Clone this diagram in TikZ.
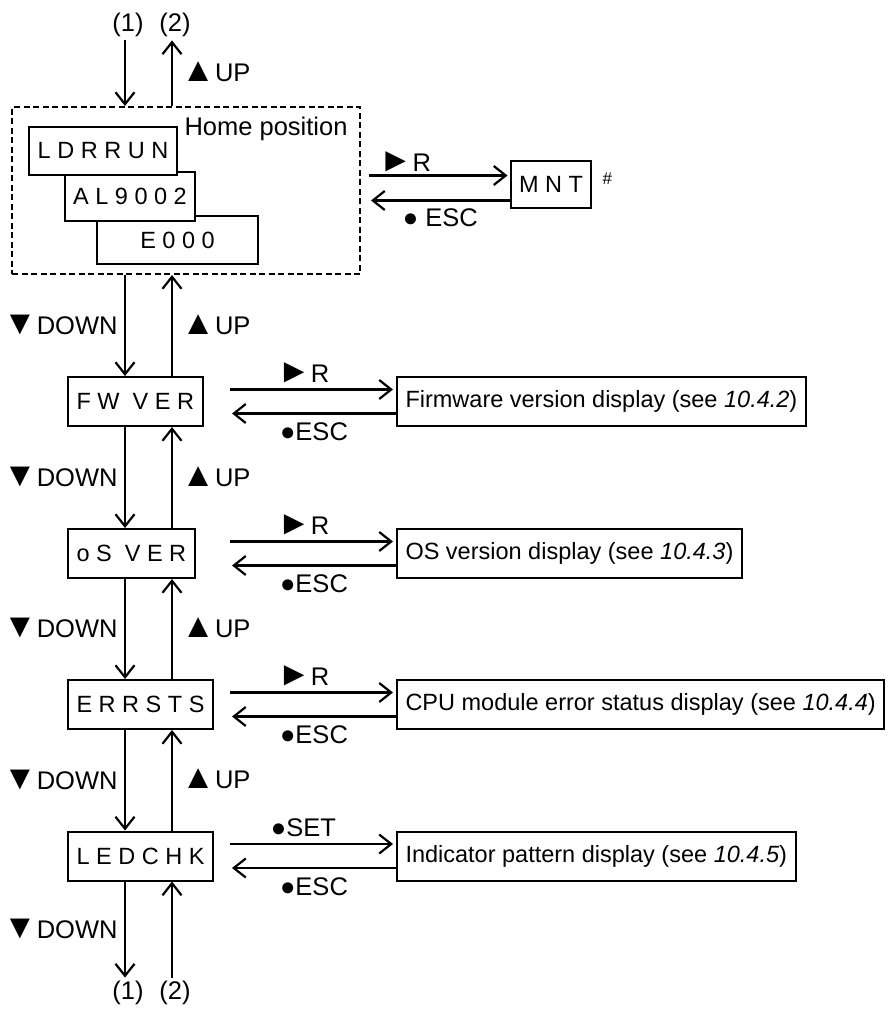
\documentclass[tikz,border=0pt]{standalone}
\usepackage{fontspec}
\setmainfont{Liberation Sans}
\usetikzlibrary{arrows.meta,calc,positioning}
\newcommand{\tup}{\smash{\fontsize{34}{34}\selectfont▲}}
\newcommand{\tdown}{\smash{\fontsize{34}{34}\selectfont▼}}
\newcommand{\tright}{\smash{\fontsize{34}{34}\selectfont►}}

\begin{document}
\begin{tikzpicture}[x=1pt,y=-1pt,font=\fontsize{23.5}{28}\selectfont,
  disp/.style={draw,line width=2pt,fill=white,minimum height=49pt,inner xsep=8.5pt,inner ysep=0pt,anchor=west},
  lbl/.style={font=\fontsize{25.5}{30}\selectfont},
  arr/.style={line width=2.2pt,-{Straight Barb[length=12pt,width=19pt]}}]
\useasboundingbox (0,0) rectangle (890,1009);
\coordinate (cd) at (125,0); \coordinate (cu) at (172,0); \coordinate (sx) at (230,0);
% home position
\node[draw,line width=2pt,dash pattern=on 6pt off 3.5pt,minimum width=348pt,minimum height=167pt,inner sep=0pt] (home) at (186,190.5) {};
\node[disp,anchor=center,minimum width=161pt,minimum height=48pt] (e0) at (177.5,240) {E 0 0 0};
\node[disp,anchor=center] (al) at (130,196) {A L 9 0 0 2};
\node[disp,anchor=center,minimum height=48pt] (ld) at (103,151) {L D R R U N};
\node[lbl,anchor=west] (hp) at (181,129) {Home position};
\node[disp,anchor=center,minimum height=47pt] (mnt) at (551,184.5) {M N T};
\node[font=\fontsize{17}{20}\selectfont,anchor=west] (hash) at (599,179) {\#};
\draw[arr] ($(home.east |- mnt.west)+(8,-9)$) -- ($(mnt.west)+(-2,-9)$) node[lbl,pos=0.26,above]{\tright R};
\draw[arr] ($(mnt.west)+(0,16)$) -- ($(home.east |- mnt.west)+(10,16)$) node[lbl,midway,below=4pt]{● ESC};
\node[lbl] (t1) at (128,25) {(1)};
\node[lbl] (t2) at (175,25) {(2)};
\draw[arr] (t1.south -| cd) -- (home.north -| cd);
\draw[arr] (home.north -| cu) -- (t2.south -| cu) node[lbl,midway,right=5pt]{\tup UP};
% menu rows
\foreach \n/\y/\t/\d/\k in {fw/401.5/{F W\ \ V E R}/{Firmware version display (see \textit{10.4.2})}/{\tright R},
  os/553.5/{o S\ \ V E R}/{OS version display (see \textit{10.4.3})}/{\tright R},
  err/704.5/{E R R S T S}/{CPU module error status display (see \textit{10.4.4})}/{\tright R},
  led/856/{L E D C H K}/{Indicator pattern display (see \textit{10.4.5})}/●SET} {
  \node[disp] (\n) at (67,\y) {\t};
  \node[disp] (\n-view) at (396,\y) {\d};
  \draw[arr] ($(\n.center -| sx)+(0,-12)$) -- ($(\n-view.west)+(-3,-12)$) node[lbl,pos=0.45,above=3pt]{\k};
  \draw[arr] ($(\n-view.west)+(0,12)$) -- ($(\n.center -| sx)+(2,12)$) node[lbl,midway,below=5pt]{●ESC};
}
\foreach \a/\b in {home/fw,fw/os,os/err,err/led} {
  \draw[arr] (\a.south -| cd) -- (\b.north -| cd) node[lbl,midway,left=3pt]{\tdown DOWN};
  \draw[arr] (\b.north -| cu) -- (\a.south -| cu) node[lbl,midway,right=5pt]{\tup UP};
}
\node[lbl] (b1) at (128,993) {(1)};
\node[lbl] (b2) at (175,993) {(2)};
\draw[arr] (led.south -| cd) -- (b1.north -| cd) node[lbl,midway,left=3pt]{\tdown DOWN};
\draw[arr] (b2.north -| cu) -- (led.south -| cu);
\end{tikzpicture}
\end{document}
